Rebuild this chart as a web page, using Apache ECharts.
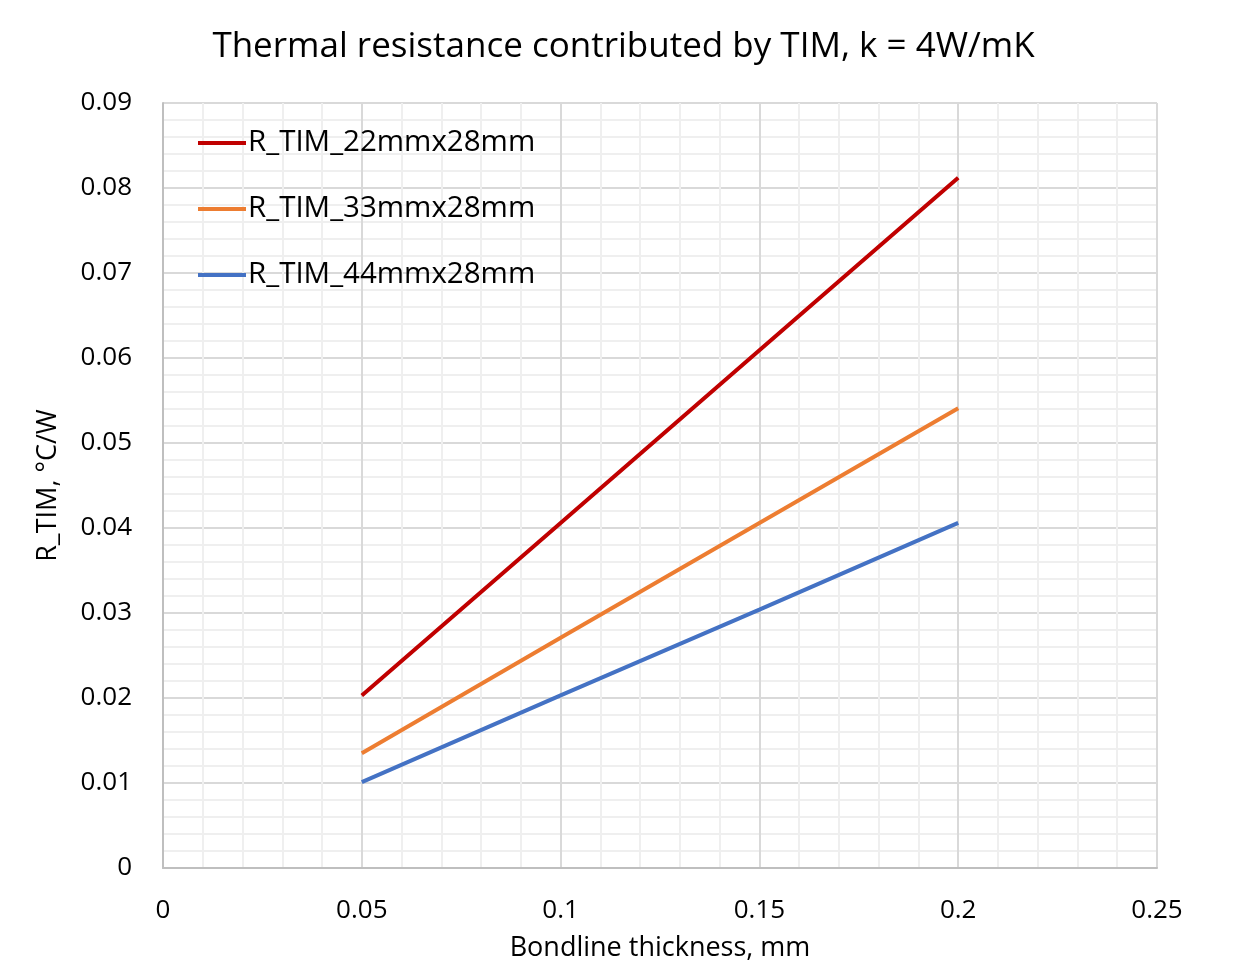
<!DOCTYPE html>
<html><head><meta charset="utf-8">
<script src="https://cdn.jsdelivr.net/npm/echarts@6/dist/echarts.min.js"></script>
<style>html,body{margin:0;padding:0;background:#fff}#c{width:1247px;height:967px}</style>
</head><body><div id="c"></div>
<script>
const thickness = [0.05, 0.1, 0.15, 0.2];
const r22 = [0.0203, 0.0406, 0.0609, 0.0812];
const r33 = [0.0135, 0.0271, 0.0406, 0.0541];
const r44 = [0.0101, 0.0203, 0.0304, 0.0406];
const seriesNames = ['R_TIM_22mmx28mm', 'R_TIM_33mmx28mm', 'R_TIM_44mmx28mm'];
const colors = ['#C00000', '#ED7D31', '#4472C4'];
const FONT = 'Open Sans';

const chart = echarts.init(document.getElementById('c'));
const mk = (vals, i) => ({
  name: seriesNames[i], type: 'line', showSymbol: false, symbol: 'none',
  data: thickness.map((t, j) => [t, vals[j]]),
  lineStyle: { color: colors[i], width: 4 }, itemStyle: { color: colors[i] }
});
chart.setOption({
  animation: false,
  backgroundColor: '#fff',
  title: {
    text: 'Thermal resistance contributed by TIM, k = 4W/mK', left: 'center', top: 25,
    textStyle: { fontFamily: FONT, fontSize: 35, fontWeight: 'normal', color: '#000' }
  },
  legend: {
    orient: 'vertical', left: 193, top: 123, itemGap: 36,
    icon: 'path://M0,0 L48,0 L48,4 L0,4 Z', itemWidth: 48, itemHeight: 4,
    textStyle: { fontFamily: FONT, fontSize: 29.5, color: '#000', lineHeight: 29, padding: [0, 0, 0, -3] },
    data: seriesNames
  },
  grid: { left: 163, right: 90, top: 103, bottom: 99, containLabel: false },
  xAxis: {
    type: 'value', min: 0, max: 0.25, interval: 0.05,
    name: 'Bondline thickness, mm', nameLocation: 'middle', nameGap: 67,
    nameTextStyle: { fontFamily: FONT, fontSize: 27, color: '#000' },
    axisLine: { show: true, lineStyle: { color: '#bfbfbf', width: 2 } },
    axisTick: { show: false },
    axisLabel: { fontFamily: FONT, fontSize: 26, color: '#000', margin: 30 },
    splitLine: { show: true, lineStyle: { color: '#d9d9d9', width: 2 } },
    minorTick: { show: false, splitNumber: 5 },
    minorSplitLine: { show: true, lineStyle: { color: '#efefef', width: 2 } }
  },
  yAxis: {
    type: 'value', min: 0, max: 0.09, interval: 0.01,
    name: 'R_TIM, °C/W', nameLocation: 'middle', nameGap: 101, nameRotate: 90,
    nameTextStyle: { fontFamily: FONT, fontSize: 27, color: '#000' },
    axisLine: { show: true, lineStyle: { color: '#bfbfbf', width: 2 } },
    axisTick: { show: false },
    axisLabel: { fontFamily: FONT, fontSize: 26, color: '#000', margin: 31 },
    splitLine: { show: true, lineStyle: { color: '#d9d9d9', width: 2 } },
    minorTick: { show: false, splitNumber: 5 },
    minorSplitLine: { show: true, lineStyle: { color: '#efefef', width: 2 } }
  },
  series: [mk(r22, 0), mk(r33, 1), mk(r44, 2)]
});
</script></body></html>
